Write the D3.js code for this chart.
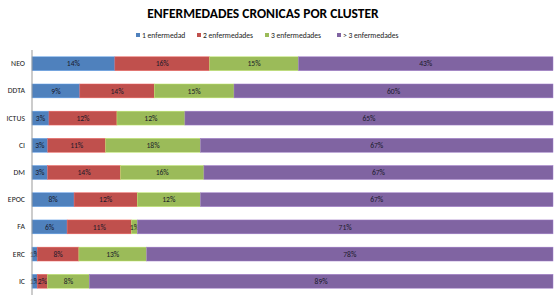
<!DOCTYPE html>
<html><head><meta charset="utf-8">
<script src="https://cdn.jsdelivr.net/npm/d3@7"></script>
<style>body{margin:0;background:#fff}svg{display:block}</style>
</head><body>
<svg id="c" width="560" height="303"></svg>
<script>
const categories = ["NEO","DDTA","ICTUS","CI","DM","EPOC","FA","ERC","IC"];
const seriesNames = ["1 enfermedad","2 enfermedades","3 enfermedades","> 3 enfermedades"];
const s1 = [14,9,3,3,3,8,6,1,1];
const s2 = [16,14,12,11,14,12,11,8,2];
const s3 = [15,15,12,18,16,12,1,13,8];
const s4 = [43,60,65,67,67,67,71,78,89];
const colors = ["#4F81BD","#C0504D","#9BBB59","#8064A2"];
const title = "ENFERMEDADES CRONICAS POR CLUSTER";

const svg = d3.select("#c");
const font = "Calibri, Carlito, 'Liberation Sans', Arial, sans-serif";
const m = {l:32, r:7, t:50, b:8};
const W = 560, H = 303;
const x = d3.scaleLinear().domain([0,1]).range([m.l, W-m.r]);
const y = d3.scaleBand().domain(categories).range([m.t, H-m.b]).paddingInner(0.49).paddingOuter(0.25);

const series = [s1,s2,s3,s4];
const rows = categories.map((c,i)=>{
  const o={cat:c}; const tot=d3.sum(series,s=>s[i]);
  series.forEach((s,k)=>o["k"+k]=s[i]/tot); o.raw=series.map(s=>s[i]); return o;});
const stack = d3.stack().keys(["k0","k1","k2","k3"])(rows);

svg.append("text").attr("x",263).attr("y",18).attr("text-anchor","middle")
  .attr("font-family",font).attr("font-weight","bold").attr("font-size",13.5).attr("fill","#000").text(title);

// legend
const lx=[136,197,265,337];
seriesNames.forEach((n,k)=>{
  svg.append("rect").attr("x",lx[k]).attr("y",33).attr("width",4).attr("height",4).attr("fill",colors[k]);
  svg.append("text").attr("x",lx[k]+6).attr("y",37.8).attr("font-family",font).attr("font-size",7.6).attr("fill","#222").text(n);
});

stack.forEach((layer,k)=>{
  const g=svg.append("g");
  g.selectAll("rect").data(layer).join("rect")
    .attr("x",d=>x(d[0])).attr("width",d=>x(d[1])-x(d[0]))
    .attr("y",d=>y(d.data.cat)).attr("height",y.bandwidth())
    .attr("fill",colors[k]).attr("stroke",d3.color(colors[k]).brighter(0.6)).attr("stroke-width",0.5);
  g.selectAll("text").data(layer).join("text")
    .attr("x",d=>(x(d[0])+x(d[1]))/2).attr("y",d=>y(d.data.cat)+y.bandwidth()/2+2.7)
    .attr("text-anchor","middle").attr("font-family",font).attr("font-size",7.6).attr("fill","#1a1a2a")
    .text(d=>d.data.raw[k]+"%");
});

const ya = svg.append("g").attr("transform",`translate(${m.l},0)`).call(d3.axisLeft(y).tickSize(0).tickPadding(7));
ya.select(".domain").attr("stroke","#999").attr("d",`M0,${m.t}V${H-m.b}`);
ya.selectAll("text").attr("font-family",font).attr("font-size",7.8).attr("fill","#222");
</script>
</body></html>
